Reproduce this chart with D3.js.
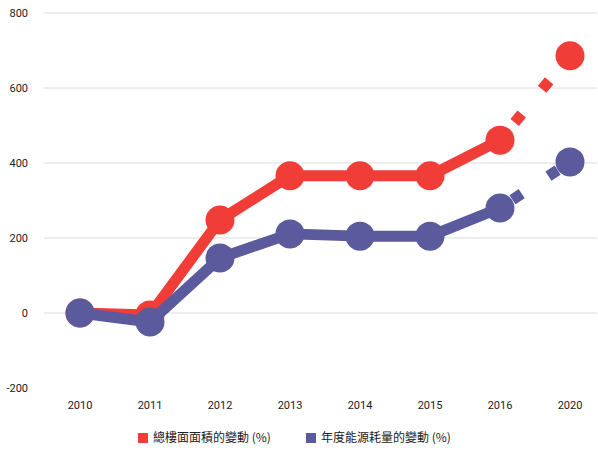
<!DOCTYPE html>
<html>
<head>
<meta charset="utf-8">
<script src="https://cdn.jsdelivr.net/npm/d3@7"></script>
<style>
  body { margin: 0; background: #fff; }
  text { font-family: "Liberation Sans Narrow", "Roboto", "Noto Sans CJK TC", sans-serif; }
</style>
</head>
<body>
<div id="chart"></div>
<script>
// Chart data
const years = ["2010", "2011", "2012", "2013", "2014", "2015", "2016", "2020"];
const floorArea = [0, -5, 248, 366, 366, 366, 461, 686];
const energyUse = [0, -24, 147, 211, 205, 205, 280, 403];
const yTicks = [-200, 0, 200, 400, 600, 800];
const seriesNames = ["總樓面面積的變動 (%)", "年度能源耗量的變動 (%)"];

const width = 598;
const height = 454;
const red = "#f03d38";
const blue = "#5a5a9c";

const svg = d3.select("#chart")
    .append("svg")
    .attr("width", width)
    .attr("height", height);

const xScale = d3.scalePoint()
    .domain(years)
    .range([80, 570]);

const yScale = d3.scaleLinear()
    .domain([-200, 800])
    .range([388, 13]);

// Gridlines (none at -200)
svg.append("g")
    .selectAll("line")
    .data(yTicks.filter(d => d > -200))
    .join("line")
    .attr("x1", 44)
    .attr("x2", 597)
    .attr("y1", d => yScale(d))
    .attr("y2", d => yScale(d))
    .attr("stroke", "#dcdcdc")
    .attr("stroke-width", 1);

// Y axis labels
svg.append("g")
    .selectAll("text")
    .data(yTicks)
    .join("text")
    .attr("x", 28)
    .attr("y", d => yScale(d))
    .attr("dy", "0.35em")
    .attr("text-anchor", "end")
    .attr("font-size", 11)
    .attr("fill", "#222")
    .text(d => d);

// X axis labels
svg.append("g")
    .selectAll("text")
    .data(years)
    .join("text")
    .attr("x", d => xScale(d))
    .attr("y", 405)
    .attr("dy", "0.35em")
    .attr("text-anchor", "middle")
    .attr("font-size", 11)
    .attr("fill", "#222")
    .text(d => d);

const line = d3.line()
    .x(d => xScale(d.year))
    .y(d => yScale(d.value));

function drawSeries(values, color, dashOffset) {
    const pts = years.map((y, i) => ({ year: y, value: values[i] }));
    const solid = pts.slice(0, 7);
    const dashed = pts.slice(6);

    svg.append("path")
        .datum(solid)
        .attr("fill", "none")
        .attr("stroke", color)
        .attr("stroke-width", 11)
        .attr("stroke-linejoin", "round")
        .attr("d", line);

    svg.append("path")
        .datum(dashed)
        .attr("fill", "none")
        .attr("stroke", color)
        .attr("stroke-width", 11)
        .attr("stroke-dasharray", "11 32")
        .attr("stroke-dashoffset", dashOffset)
        .attr("d", line);

    svg.append("g")
        .selectAll("circle")
        .data(pts)
        .join("circle")
        .attr("cx", d => xScale(d.year))
        .attr("cy", d => yScale(d.value))
        .attr("r", 14.5)
        .attr("fill", color);
}

drawSeries(floorArea, red, 20);
drawSeries(energyUse, blue, 28);

// Legend
const legend = svg.append("g");
const legendItems = [
    { name: seriesNames[0], color: red, x: 138 },
    { name: seriesNames[1], color: blue, x: 306 }
];
legendItems.forEach(item => {
    legend.append("rect")
        .attr("x", item.x)
        .attr("y", 433)
        .attr("width", 10)
        .attr("height", 10)
        .attr("fill", item.color);
    legend.append("text")
        .attr("x", item.x + 15)
        .attr("y", 438)
        .attr("dy", "0.35em")
        .attr("font-size", 12)
        .attr("fill", "#222")
        .style("font-family", "'Noto Sans CJK TC', sans-serif")
        .text(item.name);
});
</script>
</body>
</html>
